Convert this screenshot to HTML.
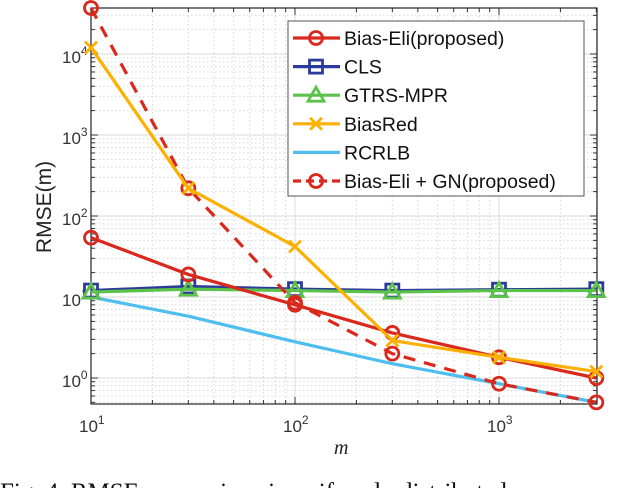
<!DOCTYPE html>
<html><head><meta charset="utf-8"><style>
html,body{margin:0;padding:0;background:#fff;width:640px;height:488px;overflow:hidden}
svg{display:block}
text{font-family:"Liberation Sans",sans-serif}
text.serif{font-family:"Liberation Serif",serif}
</style></head><body>
<svg id="c" width="640" height="488" xmlns="http://www.w3.org/2000/svg">
<g id="grid"></g>
<g id="axes"></g>
<g id="series"></g>
<g id="legend"></g>
<text x="0" y="0" font-size="21" fill="#222" text-anchor="middle" transform="translate(51 207) rotate(-90)">RMSE(m)</text>
<text class="serif" x="334" y="454" font-size="20" font-style="italic" fill="#222">m</text>
<text class="serif" x="0" y="500" font-size="25" fill="#111">Fig. 4. RMSE comparison in uniformly distributed</text>
</svg>
<script>
const categories = [10, 30, 100, 300, 1000, 3000];
const biasEli = [54, 19, 8, 3.6, 1.8, 1.0];
const cls = [12, 13.5, 12.5, 12, 12.3, 12.5];
const gtrs = [11.5, 12.5, 12, 11.5, 12, 12];
const biasRed = [12000, 220, 42, 2.9, 1.8, 1.2];
const rcrlb = [10, 5.8, 2.8, 1.5, 0.85, 0.5];
const biasEliGN = [37000, 220, 8.5, 2.0, 0.85, 0.5];
const xTickLabels = ["1", "2", "3"];
const yTickLabels = ["0", "1", "2", "3", "4"];

const L=91,R=597,T=8,B=404;
const X=v=>91+204*Math.log10(v/10);
const Y=v=>378-81*Math.log10(v);
const NS="http://www.w3.org/2000/svg";
function mk(tag,attrs,parent){const e=document.createElementNS(NS,tag);for(const k in attrs)e.setAttribute(k,attrs[k]);parent.appendChild(e);return e;}
const grid=document.getElementById('grid'),axes=document.getElementById('axes'),series=document.getElementById('series'),legend=document.getElementById('legend');

for(let d=1;d<=3;d++)for(let m=1;m<=9;m++){const v=Math.pow(10,d)*m;const x=X(v);if(x>R)continue;
 const g=mk('line',{x1:x,x2:x,y1:T,y2:B,stroke:m==1?'#dcdcdc':'#d8d8d8','stroke-width':1,'stroke-dasharray':m==1?'':'1.5 2.5'},grid);
 
 
 mk('line',{x1:x,x2:x,y1:B,y2:B-(m==1?7:4),stroke:'#333'},axes);
 mk('line',{x1:x,x2:x,y1:T,y2:T+(m==1?7:4),stroke:'#333'},axes);
}
for(let d=-1;d<=4;d++)for(let m=1;m<=9;m++){const v=Math.pow(10,d)*m;const y=Y(v);if(y>B||y<T)continue;
 const g=mk('line',{x1:L,x2:R,y1:y,y2:y,stroke:'#d8d8d8','stroke-width':1,'stroke-dasharray':m==1?'':'1.5 2.5'},grid);
 
 
 mk('line',{x1:L,x2:L+(m==1?7:4),y1:y,y2:y,stroke:'#333'},axes);
 mk('line',{x1:R,x2:R-(m==1?7:4),y1:y,y2:y,stroke:'#333'},axes);
}
const frame=mk('rect',{x:L,y:T,width:R-L,height:B-T,fill:'none',stroke:'#222','stroke-width':1.2},axes);


xTickLabels.forEach((e,i)=>{const x=X(Math.pow(10,i+1));
 const t=mk('text',{x:x-12,y:432,'font-size':17,fill:'#333'},axes);t.innerHTML='10<tspan dy="-8" font-size="12">'+e+'</tspan>';
 
 });
yTickLabels.forEach((e,i)=>{const y=Y(Math.pow(10,i));
 const t=mk('text',{x:62,y:y+9,'font-size':17,fill:'#333'},axes);t.innerHTML='10<tspan dy="-8" font-size="12">'+e+'</tspan>';
 
 });

function marker(type,x,y,col,g){
 if(type=='o')mk('circle',{cx:x,cy:y,r:6.5,fill:'none',stroke:col,'stroke-width':2.8},g);
 else if(type=='s')mk('rect',{x:x-6.5,y:y-6.5,width:13,height:13,fill:'none',stroke:col,'stroke-width':2.8},g);
 else if(type=='^')mk('polygon',{points:`${x},${y-8} ${x-8},${y+6} ${x+8},${y+6}`,fill:'none',stroke:col,'stroke-width':2.8},g);
 else if(type=='x'){mk('path',{d:`M${x-6},${y-6}L${x+6},${y+6}M${x-6},${y+6}L${x+6},${y-6}`,stroke:col,'stroke-width':2.8},g);}
}
const defs=[
 {d:rcrlb,c:'#4dbeee',m:null,dash:'',n:'RCRLB'},
 {d:cls,c:'#2b3b9a',m:'s',dash:'',n:'CLS'},
 {d:gtrs,c:'#5cc24a',m:'^',dash:'',n:'GTRS-MPR'},
 {d:biasEli,c:'#d9291c',m:'o',dash:'',n:'Bias-Eli(proposed)'},
 {d:biasEliGN,c:'#d9291c',m:'o',dash:'12 9',n:'Bias-Eli + GN(proposed)'},
 {d:biasRed,c:'#fdb000',m:'x',dash:'',n:'BiasRed'}
];
defs.forEach(s=>{const g=mk('g',{},series);
 
 
 const pts=s.d.map((v,i)=>X(categories[i])+','+Y(v)).join(' ');
 mk('polyline',{points:pts,fill:'none',stroke:s.c,'stroke-width':3.2,'stroke-dasharray':s.dash},g);
 if(s.m)s.d.forEach((v,i)=>marker(s.m,X(categories[i]),Y(v),s.c,g));
});

const lb=mk('rect',{x:288,y:21,width:296,height:175,fill:'#fff',stroke:'#555','stroke-width':1},legend);


const items=[['Bias-Eli(proposed)','#d9291c','o',''],['CLS','#2b3b9a','s',''],['GTRS-MPR','#5cc24a','^',''],['BiasRed','#fdb000','x',''],['RCRLB','#4dbeee',null,''],['Bias-Eli + GN(proposed)','#d9291c','o','8 5']];
items.forEach((it,i)=>{const y=38+i*28.6;const g=mk('g',{},legend);
 
 
 mk('line',{x1:293,x2:340,y1:y,y2:y,stroke:it[1],'stroke-width':3.2,'stroke-dasharray':it[3]},g);
 if(it[2])marker(it[2],316,y,it[1],g);
 const t=mk('text',{x:344,y:y+7,'font-size':19.5,fill:'#111'},g);t.textContent=it[0];
});
</script>
</body></html>
